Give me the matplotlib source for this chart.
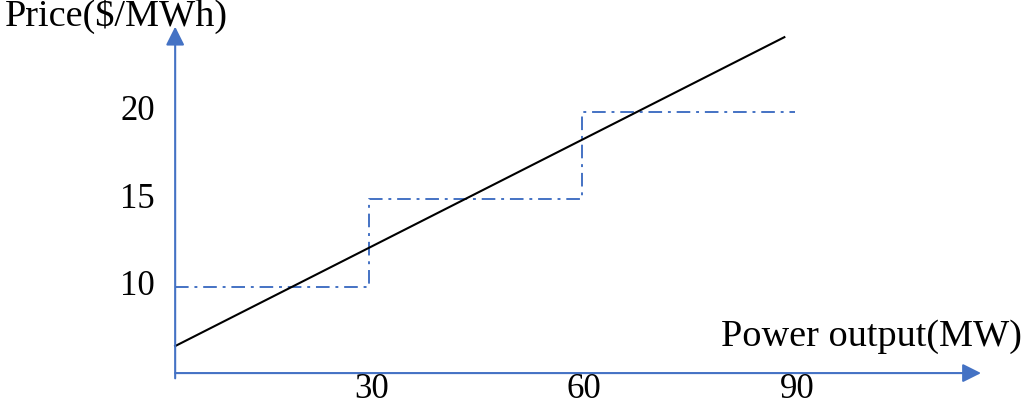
import matplotlib
matplotlib.use("Agg")
import matplotlib.pyplot as plt

# Data
bid_breaks = [0, 30, 60, 90]          # MW
bid_prices = [10, 15, 20]             # $/MWh
demand_x = [2.7, 88.5]                # MW
demand_y = [6.63, 24.25]              # $/MWh
x_ticks = [30, 60, 90]
y_ticks = [10, 15, 20]

BLUE = "#4472C4"
plt.rcParams['font.family'] = ['Liberation Serif', 'DejaVu Serif']

fig = plt.figure(figsize=(10.24, 4.07), dpi=100)
ax = fig.add_axes([0, 0, 1, 1])
ax.set_xlim(-21.97, 122.25)
ax.set_ylim(3.155, 26.37)
ax.axis('off')

x0, y0 = 2.7, 5.09  # axis origin

# axes with arrows
ax.annotate("", xy=(116.2, y0), xytext=(x0, y0),
            arrowprops=dict(arrowstyle='-|>', color=BLUE, lw=1.5,
                            mutation_scale=28, shrinkA=0, shrinkB=0))
ax.annotate("", xy=(x0, 24.85), xytext=(x0, y0 - 0.3),
            arrowprops=dict(arrowstyle='-|>', color=BLUE, lw=1.5,
                            mutation_scale=28, shrinkA=0, shrinkB=0))

# step bid curve
sx, sy = [], []
for i, p in enumerate(bid_prices):
    left = max(bid_breaks[i], x0)
    sx += [left, bid_breaks[i + 1]]
    sy += [p, p]
ax.plot(sx, sy, color=BLUE, lw=1.4, linestyle=(0, (7, 3, 1.5, 3)))

# demand line
ax.plot(demand_x, demand_y, color='black', lw=1.5)

# tick labels
for t in x_ticks:
    ax.text(t + 0.3, 3.22, str(t), ha='center', va='bottom', fontsize=25)
for t in y_ticks:
    ax.text(-2.6, t, str(t), ha='center', va='center', fontsize=25)

ax.text(-21.3, 25.45, "Price($/MWh)", ha='left', va='center', fontsize=27.5)
ax.text(121.9, 7.15, "Power output(MW)", ha='right', va='center', fontsize=27.5)

fig.savefig("out.png", dpi=100)
